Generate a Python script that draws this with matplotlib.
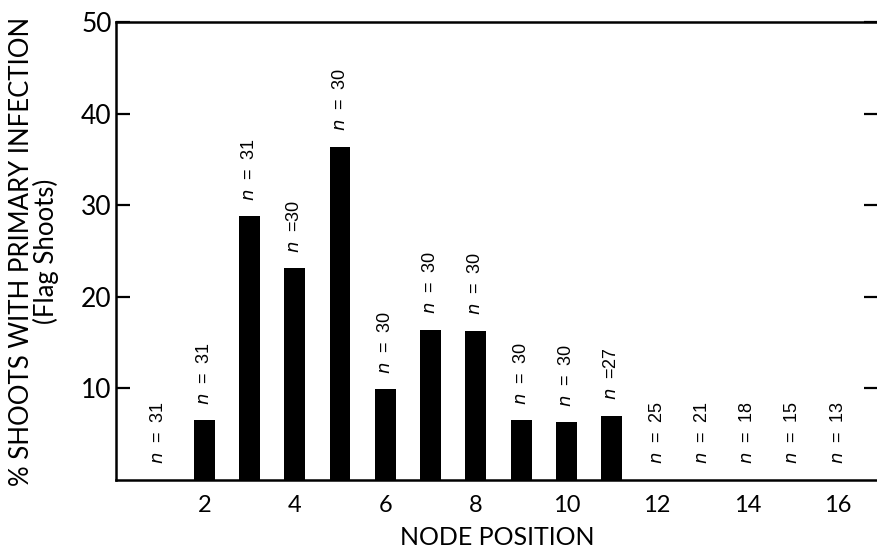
import matplotlib
matplotlib.use("Agg")
import matplotlib.pyplot as plt

nodes = list(range(1, 17))
pct_infected = [0, 6.5, 28.8, 23.1, 36.4, 9.9, 16.4, 16.3, 6.5, 6.3, 7.0, 0, 0, 0, 0, 0]
n_labels = ["n = 31", "n = 31", "n = 31", "n =30", "n = 30", "n = 30", "n = 30", "n = 30",
            "n = 30", "n = 30", "n =27", "n = 25", "n = 21", "n = 18", "n = 15", "n = 13"]
xticks = [2, 4, 6, 8, 10, 12, 14, 16]
yticks = [10, 20, 30, 40, 50]

plt.rcParams['font.family'] = ['Lato', 'DejaVu Sans']
plt.rcParams['mathtext.fontset'] = 'custom'
plt.rcParams['mathtext.it'] = 'Liberation Sans Narrow:italic'
plt.rcParams['mathtext.rm'] = 'Liberation Sans Narrow'

fig = plt.figure(figsize=(8.78, 5.56), dpi=100)
ax = fig.add_axes([0.132, 0.137, 0.868, 0.823])

ax.bar(nodes, pct_infected, width=0.46, color='black')

for x, v, lab in zip(nodes, pct_infected, n_labels):
    txt = lab.replace("n", "$n$", 1).replace(" ", "  ")
    ax.text(x, v + 1.7, txt, rotation=90, ha='center', va='bottom',
            fontsize=13, family=['Liberation Sans Narrow', 'Liberation Sans', 'DejaVu Sans'])

ax.set_xlim(0.05, 16.88)
ax.set_ylim(0, 50)
ax.set_xticks(xticks)
ax.set_xticklabels([str(t) for t in xticks], fontsize=17)
ax.set_yticks(yticks)
ax.set_yticklabels([str(t) for t in yticks], fontsize=19)
ax.tick_params(axis='x', length=0, pad=11)
ax.tick_params(axis='y', direction='in', length=10, width=1.6, pad=3, right=True)
for side in ['left', 'top', 'bottom']:
    ax.spines[side].set_linewidth(1.8)
ax.spines['right'].set_visible(False)

ax.set_xlabel("NODE POSITION", fontsize=18, labelpad=7)
ax.set_ylabel("% SHOOTS WITH PRIMARY INFECTION\n(Flag Shoots)", fontsize=18.5,
              linespacing=0.95, labelpad=16)

fig.savefig("out.png", dpi=100)
